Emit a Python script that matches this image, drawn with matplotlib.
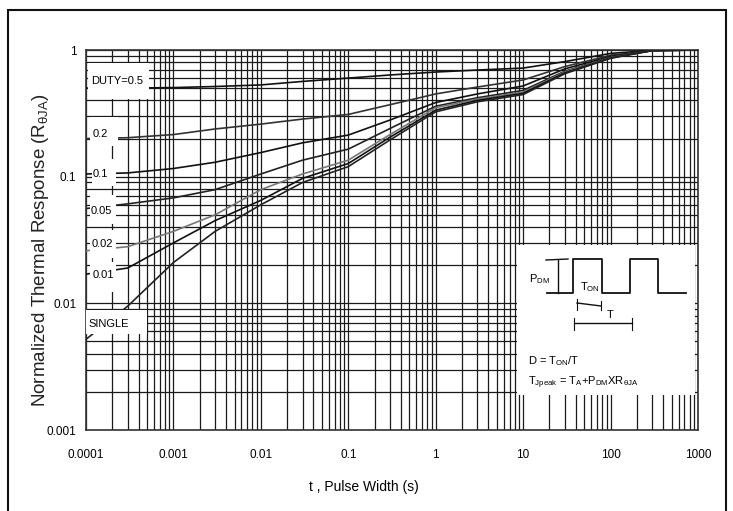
import numpy as np
import matplotlib
matplotlib.use("Agg")
import matplotlib.pyplot as plt
from matplotlib.patches import Rectangle
from matplotlib.ticker import LogLocator, NullFormatter, FixedLocator, FixedFormatter

W, H = 733, 511
FONT = ["Liberation Sans", "DejaVu Sans"]

plt.rcParams["font.family"] = FONT
plt.rcParams["mathtext.fontset"] = "custom"
plt.rcParams["mathtext.rm"] = "Liberation Sans"
plt.rcParams["mathtext.it"] = "Liberation Sans"
plt.rcParams["mathtext.default"] = "rm"

# pulse width (s) and normalized thermal response
t_pts = [1e-4, 3e-4, 1e-3, 3e-3, 1e-2, 3e-2, 0.1, 0.3, 1, 3, 10, 30, 100, 300, 1000]
duty_05 = [0.50, 0.50, 0.505, 0.515, 0.53, 0.565, 0.60, 0.635, 0.67, 0.695, 0.72, 0.81, 0.94, 0.995, 1.0]
duty_02 = [0.20, 0.203, 0.215, 0.238, 0.26, 0.285, 0.31, 0.37, 0.45, 0.51, 0.58, 0.74, 0.91, 0.99, 1.0]
duty_01 = [0.105, 0.107, 0.116, 0.13, 0.155, 0.185, 0.213, 0.28, 0.385, 0.45, 0.52, 0.71, 0.89, 0.99, 1.0]
duty_005 = [0.056, 0.061, 0.068, 0.079, 0.105, 0.135, 0.165, 0.24, 0.36, 0.42, 0.48, 0.68, 0.875, 0.99, 1.0]
duty_002 = [0.026, 0.028, 0.037, 0.05, 0.079, 0.105, 0.135, 0.215, 0.35, 0.41, 0.465, 0.67, 0.87, 0.99, 1.0]
duty_001 = [0.017, 0.019, 0.03, 0.045, 0.065, 0.097, 0.127, 0.205, 0.335, 0.40, 0.455, 0.66, 0.865, 0.99, 1.0]
single = [0.0052, 0.0095, 0.021, 0.037, 0.060, 0.090, 0.12, 0.195, 0.325, 0.39, 0.445, 0.65, 0.86, 0.99, 1.0]

series = [duty_05, duty_02, duty_01, duty_005, duty_002, duty_001, single]
series_colors = ["#111111", "#333333", "#111111", "#222222", "#777777", "#111111", "#222222"]
duty_labels = ["DUTY=0.5", "0.2", "0.1", "0.05", "0.02", "0.01", "SINGLE"]

x_ticks = [1e-4, 1e-3, 1e-2, 1e-1, 1, 10, 100, 1000]
x_tick_labels = ["0.0001", "0.001", "0.01", "0.1", "1", "10", "100", "1000"]
y_ticks = [0.001, 0.01, 0.1, 1]
y_tick_labels = ["0.001", "0.01", "0.1", "1"]

# axes box in pixels of the reference picture
AX_L, AX_R, AX_T, AX_B = 86, 698, 50, 430


def af(x, y):
    """pixel -> axes fraction"""
    return (x - AX_L) / (AX_R - AX_L), (AX_B - y) / (AX_B - AX_T)


fig = plt.figure(figsize=(W / 100, H / 100), dpi=100)
ax = fig.add_axes([AX_L / W, (H - AX_B) / H, (AX_R - AX_L) / W, (AX_B - AX_T) / H])
ax.set_xscale("log")
ax.set_yscale("log")
ax.set_xlim(1e-4, 1000)
ax.set_ylim(0.001, 1)

# grid: every decade and every sub-decade line
ax.xaxis.set_major_locator(FixedLocator(x_ticks))
ax.xaxis.set_major_formatter(FixedFormatter(x_tick_labels))
ax.yaxis.set_major_locator(FixedLocator(y_ticks))
ax.yaxis.set_major_formatter(FixedFormatter(y_tick_labels))
ax.xaxis.set_minor_locator(LogLocator(base=10, subs=np.arange(2, 10), numticks=20))
ax.yaxis.set_minor_locator(LogLocator(base=10, subs=np.arange(2, 10), numticks=20))
ax.xaxis.set_minor_formatter(NullFormatter())
ax.yaxis.set_minor_formatter(NullFormatter())
ax.grid(True, which="both", color="#1a1a1a", lw=0.9)
ax.set_axisbelow(True)
ax.tick_params(which="both", length=0)
ax.tick_params(axis="x", pad=14, labelsize=8.5)
ax.tick_params(axis="y", pad=7, labelsize=8.5)
for s in ax.spines.values():
    s.set_linewidth(1.2)
    s.set_color("#333333")

for vals, col in zip(series, series_colors):
    ax.plot(t_pts, vals, color=col, lw=1.2, zorder=3)

# white label boxes over the left end of the curves
label_boxes = [
    (88, 63, 149, 99),
    (90, 117, 118, 146),
    (92, 159, 116, 186),
    (90, 195, 116, 224),
    (90, 230, 116, 258),
    (90, 262, 116, 292),
    (86, 310, 147, 334),
]
label_pos = [(91, 81), (93, 134), (93, 174), (91, 211), (92, 244), (93, 275), (88, 324)]
for (x0, y0, x1, y1), (tx, ty), lab in zip(label_boxes, label_pos, duty_labels):
    fx0, fy1 = af(x0, y1)
    fx1, fy0 = af(x1, y0)
    ax.add_patch(Rectangle((fx0, fy1), fx1 - fx0, fy0 - fy1, transform=ax.transAxes,
                           facecolor="white", edgecolor="none", zorder=4))
    ax.text(*af(tx, ty), lab, transform=ax.transAxes, fontsize=8, ha="left", va="center", zorder=5)

# inset with the pulse definition
fx0, fy1 = af(517, 395)
fx1, fy0 = af(695, 245)
ax.add_patch(Rectangle((fx0, fy1), fx1 - fx0, fy0 - fy1, transform=ax.transAxes,
                       facecolor="white", edgecolor="none", zorder=4))


def pline(pts, **kw):
    xs, ys = zip(*[af(x, y) for x, y in pts])
    ax.plot(xs, ys, transform=ax.transAxes, color="#111111", zorder=5, clip_on=False, **kw)


pline([(547, 293), (573, 293), (573, 259), (602, 259), (602, 293), (630, 293),
       (630, 259), (658, 259), (658, 293), (686, 293)], lw=1.3)
pline([(546, 260), (568, 259)], lw=1.0)
pline([(558, 260), (558, 293)], lw=1.0)
pline([(577, 303), (601, 306)], lw=1.0)
pline([(577, 299), (577, 310)], lw=0.8)
pline([(601, 301), (601, 310)], lw=0.8)
pline([(574, 323), (632, 323)], lw=1.0)
pline([(574, 318), (574, 330)], lw=0.8)
pline([(632, 318), (632, 330)], lw=0.8)

ax.text(*af(529, 279), r"P$_{DM}$", transform=ax.transAxes, fontsize=8, ha="left", va="center", zorder=6)
ax.text(*af(580, 287), r"T$_{ON}$", transform=ax.transAxes, fontsize=8, ha="left", va="center", zorder=6)
ax.text(*af(607, 315), "T", transform=ax.transAxes, fontsize=8, ha="left", va="center", zorder=6)
ax.text(*af(528, 361), r"D = T$_{ON}$/T", transform=ax.transAxes, fontsize=8, ha="left", va="center", zorder=6)
ax.text(*af(528, 383), r"T$_{Jpeak}$ = T$_A$+P$_{DM}$XR$_{\theta JA}$", transform=ax.transAxes,
        fontsize=8, ha="left", va="center", zorder=6)

# axis titles
fig.text(364 / W, 1 - 487 / H, "t , Pulse Width (s)", fontsize=10, ha="center", va="center")
fig.text(41 / W, 1 - 250 / H, r"Normalized Thermal Response (R$_{\theta JA}$)", rotation=90,
         fontsize=13.5, ha="center", va="center", color="#222222")

# outer frame of the datasheet figure
fig.patches.append(Rectangle((8 / W, -0.02), (726 - 8) / W, 1 - 10 / H + 0.02, transform=fig.transFigure,
                             fill=False, edgecolor="#111111", lw=1.5))

fig.savefig("out.png", dpi=100)
